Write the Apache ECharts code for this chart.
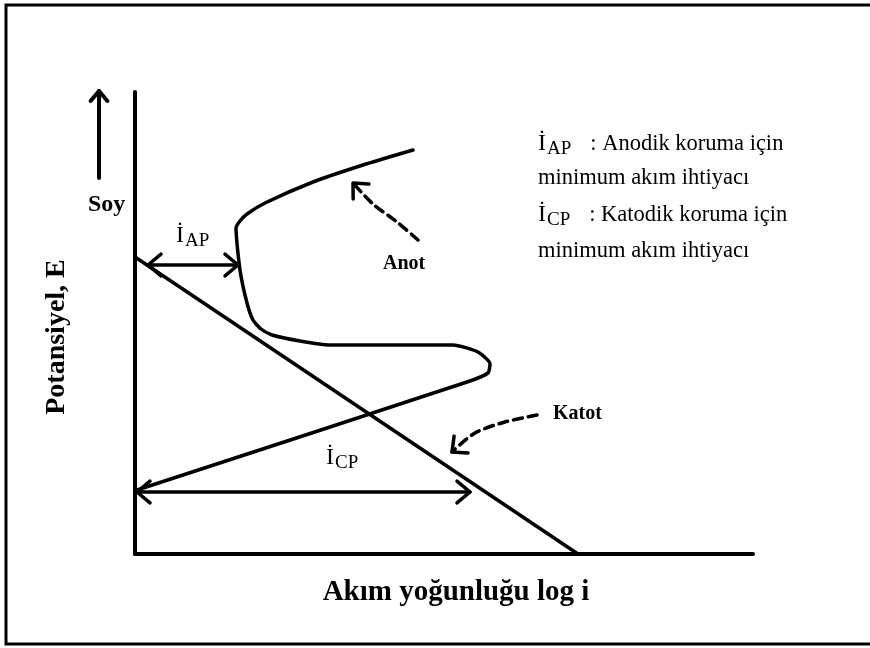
<!DOCTYPE html>
<html>
<head>
<meta charset="utf-8">
<script src="https://cdn.jsdelivr.net/npm/echarts@6/dist/echarts.min.js"></script>
<style>
  html, body { margin: 0; padding: 0; background: #fff; }
  #main { width: 870px; height: 648px; }
</style>
</head>
<body>
<div id="main"></div>
<script>
// koordinatlar: 1 birim = 1 piksel (x: 0..618, y: 0..462)
var katotLine = [[0, 297], [443, 0]];
var anotCurve = [
  [278, 404], [228, 389], [178, 372], [130, 351], [112, 340], [105, 333], [101, 326],
  [105, 284], [112, 251], [118, 234], [126, 225], [137, 219], [165, 213], [195, 209],
  [318, 209], [343, 202], [355, 190], [353, 181], [332, 172], [2, 64]
];
var iapArrow = [[13, 289], [103, 289]];
var icpArrow = [[2, 62], [335, 62]];
var anotPointer = [[283, 314], [262, 332], [238, 350], [218, 371]];
var katotPointer = [[402, 139], [370, 132], [340, 121], [317, 102]];
// "Soy" oku: sol bölgedeki ikinci ızgarada (x: 0..135, y: 0..554)
var soyArrow = [[99, 376], [99, 463]];
var legendLines = [
  '{i|İ}{sub|AP}{t|: Anodik koruma için}',
  '{t|minimum akım ihtiyacı}',
  '{i|İ}{sub|CP}{t|: Katodik koruma için}',
  '{t|minimum akım ihtiyacı}'
];

// ok ucu (açık V şekli)
function head(tip, from, len, ang) {
  len = len || 17; ang = ang || 0.7;
  var dx = from[0] - tip[0], dy = from[1] - tip[1];
  var a = Math.atan2(dy, dx);
  return [
    [tip[0] + len * Math.cos(a + ang), tip[1] + len * Math.sin(a + ang)],
    tip,
    [tip[0] + len * Math.cos(a - ang), tip[1] + len * Math.sin(a - ang)]
  ];
}

function line(data, opt) {
  opt = opt || {};
  return {
    type: 'line',
    data: data,
    xAxisIndex: opt.grid || 0,
    yAxisIndex: opt.grid || 0,
    showSymbol: false,
    symbol: 'none',
    smooth: opt.smooth || false,
    clip: false,
    silent: true,
    lineStyle: { color: '#000', width: opt.width || 3.5, type: opt.type || 'solid', cap: 'round', join: 'round' }
  };
}

var dash = [9, 6];
var series = [
  line(katotLine),
  line(anotCurve, { smooth: 0.2 }),
  line(iapArrow),
  line(head(iapArrow[0], iapArrow[1])),
  line(head(iapArrow[1], iapArrow[0])),
  line(icpArrow),
  line(head(icpArrow[0], icpArrow[1])),
  line(head(icpArrow[1], icpArrow[0])),
  line(anotPointer, { type: dash, smooth: 0.3 }),
  line(head(anotPointer[3], anotPointer[2], 16, 0.75)),
  line(katotPointer, { type: dash, smooth: 0.3 }),
  line(head(katotPointer[3], katotPointer[2], 16, 0.75)),
  line(soyArrow, { width: 4, grid: 1 }),
  line(head(soyArrow[1], soyArrow[0], 13, 0.7), { width: 4, grid: 1 })
];

var serif = '"Liberation Serif", "DejaVu Serif", serif';
var hidden = { show: false };
var rich = {
  i: { font: '24px ' + serif, fill: '#000' },
  sub: { font: '19px ' + serif, fill: '#000', padding: [11, 0, 0, 1] },
  t: { font: '22.5px ' + serif, fill: '#000', padding: [0, 0, 0, 0] }
};
var legendRich = {
  i: rich.i,
  sub: { font: '19px ' + serif, fill: '#000', padding: [11, 19, 0, 1] },
  t: { font: '22.5px ' + serif, fill: '#000' }
};
var myChart = echarts.init(document.getElementById('main'));
var option = {
  animation: false,
  backgroundColor: '#fff',
  grid: [
    { left: 135, right: 117, top: 92, bottom: 94 },
    { left: 0, top: 0, width: 135, height: 554 }
  ],
  xAxis: [{
    type: 'value', min: 0, max: 618,
    name: 'Akım yoğunluğu log i',
    nameLocation: 'middle',
    nameGap: 24,
    nameTextStyle: { fontFamily: serif, fontWeight: 'bold', fontSize: 29, color: '#000', padding: [0, 0, 0, 24] },
    axisLine: { show: true, lineStyle: { color: '#000', width: 4 } },
    axisTick: hidden, axisLabel: hidden, splitLine: hidden
  }, {
    type: 'value', gridIndex: 1, min: 0, max: 135, show: false
  }],
  yAxis: [{
    type: 'value', min: 0, max: 462,
    name: 'Potansiyel, E',
    nameLocation: 'middle',
    nameRotate: 90,
    nameGap: 64,
    nameTextStyle: { fontFamily: serif, fontWeight: 'bold', fontSize: 28, color: '#000', padding: [0, 28, 0, 0] },
    axisLine: { show: true, lineStyle: { color: '#000', width: 4 } },
    axisTick: hidden, axisLabel: hidden, splitLine: hidden
  }, {
    type: 'value', gridIndex: 1, min: 0, max: 554, show: false
  }],
  graphic: [
    { type: 'rect', shape: { x: 6, y: 5, width: 900, height: 639 }, style: { fill: 'none', stroke: '#000', lineWidth: 3 }, silent: true },
    { type: 'text', left: 88, top: 193, style: { text: 'Soy', font: 'bold 24px ' + serif, fill: '#000' } },
    { type: 'text', left: 383, top: 254, style: { text: 'Anot', font: 'bold 20px ' + serif, fill: '#000' } },
    { type: 'text', left: 553, top: 404, style: { text: 'Katot', font: 'bold 20px ' + serif, fill: '#000' } },
    { type: 'text', left: 176, top: 224, style: { text: '{i|İ}{sub|AP}', rich: rich } },
    { type: 'text', left: 326, top: 446, style: { text: '{i|İ}{sub|CP}', rich: rich } },
    { type: 'group', left: 538, top: 132, children: legendLines.map(function (s, k) {
        return { type: 'text', x: 0, y: [0, 38, 71, 111][k], style: { text: s, rich: legendRich } };
      }) }
  ],
  series: series
};
myChart.setOption(option);
</script>
</body>
</html>
